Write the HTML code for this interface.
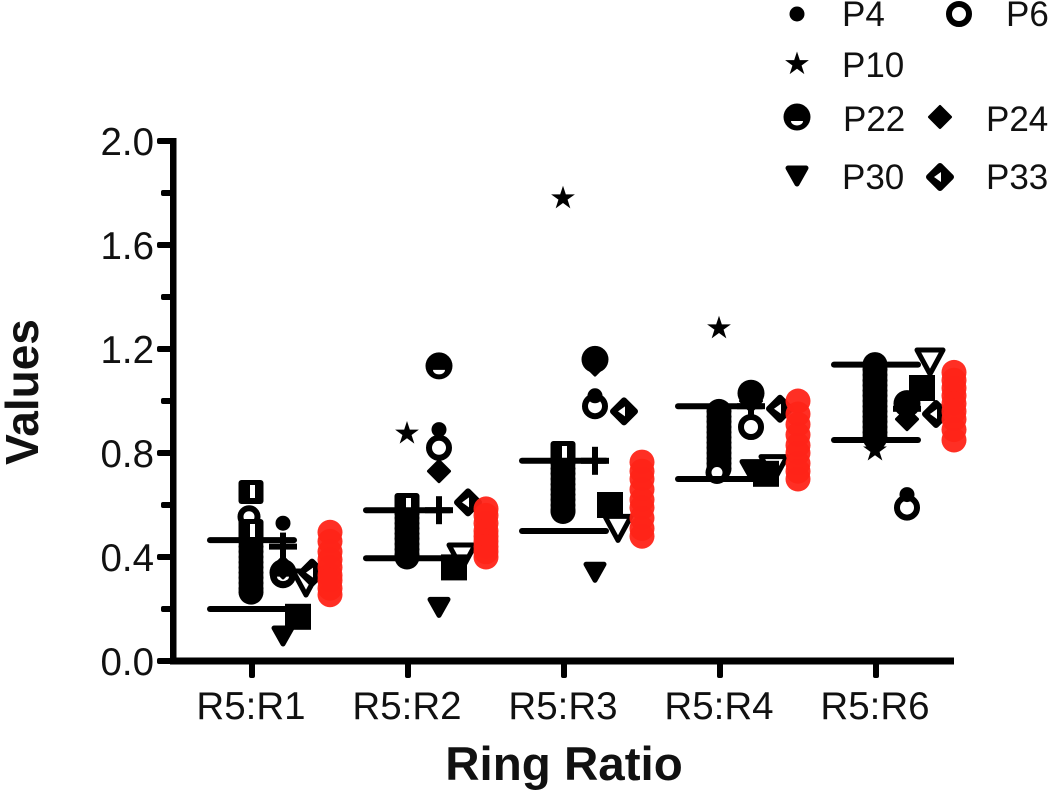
<!DOCTYPE html>
<html lang="en">
<head>
<meta charset="utf-8">
<title>Ring Ratio chart</title>
<style>
html,body{margin:0;padding:0;background:#fff;}
svg{display:block;font-family:"Liberation Sans",Arial,sans-serif;}
</style>
</head>
<body>
<svg id="chart" xmlns="http://www.w3.org/2000/svg" width="1050" height="792" viewBox="0 0 1050 792"></svg>
<script>
const categories = ['R5:R1', 'R5:R2', 'R5:R3', 'R5:R4', 'R5:R6'];
const yTicks = [0.0, 0.4, 0.8, 1.2, 1.6, 2.0];
const yMinorTicks = [0.2, 0.6, 1.0, 1.4, 1.8];

const columnValues = [
  [0.46, 0.44, 0.42, 0.40, 0.38, 0.36, 0.34, 0.32, 0.30, 0.28, 0.265],
  [0.59, 0.57, 0.55, 0.53, 0.51, 0.49, 0.47, 0.45, 0.43, 0.41, 0.40],
  [0.76, 0.74, 0.72, 0.70, 0.68, 0.66, 0.64, 0.62, 0.60, 0.58, 0.575],
  [0.96, 0.94, 0.92, 0.90, 0.88, 0.86, 0.84, 0.82, 0.80, 0.78, 0.76, 0.74],
  [1.14, 1.12, 1.10, 1.08, 1.06, 1.04, 1.02, 1.00, 0.98, 0.96, 0.94, 0.92, 0.90, 0.88, 0.86]
];
const columnRingValues = [[0.555], [], [], [0.725], []];
const openSquareValues = [[0.65, 0.50], [0.60], [0.80], [], []];
const upperLine = [0.465, 0.58, 0.77, 0.98, 1.14];
const lowerLine = [0.20, 0.395, 0.50, 0.70, 0.85];
const plusValues = [0.44, 0.58, 0.77, 0.98, 0.97];
const p4Values = [0.53, 0.89, 1.02, 1.04, 0.64];
const p6Values = [0.33, 0.82, 0.98, 0.90, 0.59];
const p10Values = [0.40, 0.875, 1.78, 1.28, 0.81];
const p22Values = [0.34, 1.135, 1.16, 1.03, 0.99];
const p24Values = [0.36, 0.73, 1.14, 1.00, 0.93];
const p30Values = [0.10, 0.21, 0.345, 0.74, 0.95];
const p33Values = [0.34, 0.61, 0.96, 0.97, 0.95];
const squareValues = [0.17, 0.36, 0.60, 0.72, 1.05];
const openTriangleValues = [0.30, 0.40, 0.51, 0.74, 1.15];
const redValues = [
  [0.495, 0.46, 0.42, 0.39, 0.36, 0.33, 0.31, 0.28, 0.255],
  [0.585, 0.56, 0.53, 0.50, 0.48, 0.46, 0.44, 0.42, 0.40],
  [0.765, 0.73, 0.70, 0.66, 0.62, 0.59, 0.55, 0.51, 0.48],
  [1.00, 0.95, 0.91, 0.87, 0.83, 0.80, 0.76, 0.73, 0.70],
  [1.11, 1.08, 1.05, 1.02, 0.99, 0.96, 0.93, 0.89, 0.85]
];

const NS = 'http://www.w3.org/2000/svg';
const svg = document.getElementById('chart');
const yScale = v => 661 - v * 260;
const xScale = i => 252 + i * 156;

function add(parent, tag, attrs) {
  const el = document.createElementNS(NS, tag);
  for (const k in attrs) el.setAttribute(k, attrs[k]);
  parent.appendChild(el);
  return el;
}
function group(name) {
  const g = add(svg, 'g', {});
  
  
  return g;
}
function circle(p, x, y, r, fill) { return add(p, 'circle', { cx: x, cy: y, r: r, fill: fill }); }
function poly(p, pts, fill, stroke, sw) {
  return add(p, 'polygon', {
    points: pts.map(q => q[0] + ',' + q[1]).join(' '),
    fill: fill, stroke: stroke || 'none', 'stroke-width': sw || 0, 'stroke-linejoin': 'round'
  });
}
function drawP4(p, x, y) { circle(p, x, y, 7.5, '#000'); }
function drawP6(p, x, y) { add(p, 'circle', { cx: x, cy: y, r: 10, fill: '#fff', stroke: '#000', 'stroke-width': 6 }); }
function drawStar(p, x, y) {
  const pts = [];
  for (let k = 0; k < 10; k++) {
    const r = k % 2 ? 4.8 : 12.5;
    const a = -Math.PI / 2 + k * Math.PI / 5;
    pts.push([x + r * Math.cos(a), y + r * Math.sin(a)]);
  }
  poly(p, pts, '#000');
}
function drawP22(p, x, y) {
  circle(p, x, y, 13.5, '#000');
  add(p, 'path', { d: `M${x - 6} ${y + 4}H${x + 6}A6 4.5 0 0 1 ${x - 6} ${y + 4}Z`, fill: '#fff' });
}
function drawP24(p, x, y) {
  poly(p, [[x, y - 10.5], [x + 10.5, y], [x, y + 10.5], [x - 10.5, y]], '#000', '#000', 3);
}
function drawP30(p, x, y) {
  poly(p, [[x - 9, y - 7], [x + 9, y - 7], [x, y + 9]], '#000', '#000', 5);
}
function drawP33(p, x, y) {
  poly(p, [[x, y - 11], [x + 11, y], [x, y + 11], [x - 11, y]], '#000', '#000', 6);
  poly(p, [[x - 6, y], [x + 1, y - 5], [x + 1, y + 5]], '#fff');
}
function drawSquare(p, x, y) { add(p, 'rect', { x: x - 13, y: y - 13, width: 26, height: 26, fill: '#000' }); }
function drawOpenTriangle(p, x, y) {
  poly(p, [[x - 13, y - 12], [x + 13, y - 12], [x, y + 12]], '#fff', '#000', 5);
}
function drawPlus(p, x, y) {
  add(p, 'rect', { x: x - 14, y: y - 3, width: 28, height: 6, fill: '#000' });
  add(p, 'rect', { x: x - 3, y: y - 14, width: 6, height: 28, fill: '#000' });
}
function drawOpenSquare(p, x, y) {
  add(p, 'rect', { x: x - 12.5, y: y - 12, width: 25, height: 24, rx: 3, fill: '#000' });
  add(p, 'rect', { x: x - 1, y: y - 7, width: 5, height: 13, fill: '#fff' });
}
function label(parent, x, y, text, size, anchor, weight) {
  const t = add(parent, 'text', { x: x, y: y, 'font-size': size, 'text-anchor': anchor || 'start', 'font-weight': weight || 'normal', fill: '#111' });
  t.textContent = text;
  return t;
}

/* axes */
const axes = group('axes');
const yAxis = add(axes, 'rect', { x: 170, y: 138, width: 6.5, height: 526, fill: '#000' });


const xAxis = add(axes, 'rect', { x: 170, y: 657.5, width: 784, height: 7, fill: '#000' });


yTicks.forEach(v => {
  const y = yScale(v);
  const tick = add(axes, 'rect', { x: 157, y: y - 3, width: 16, height: 6, rx: 2, fill: '#000' });
  
  
  const tl = label(axes, 154, y + 14, v.toFixed(1), 38.5, 'end');
  
  
});
yMinorTicks.forEach(v => {
  const tick = add(axes, 'rect', { x: 161, y: yScale(v) - 3, width: 12, height: 6, rx: 2, fill: '#000' });
  
  
});
categories.forEach((c, i) => {
  const tick = add(axes, 'rect', { x: xScale(i) - 3, y: 660, width: 6, height: 18, rx: 2, fill: '#000' });
  
  
  const tl = label(axes, xScale(i) - 1, 719, c, 38.5, 'middle');
  
  
});
const xTitle = label(svg, 564, 780, 'Ring Ratio', 47.5, 'middle', 'bold');


const yTitle = label(svg, 0, 0, 'Values', 46, 'middle', 'bold');
yTitle.setAttribute('transform', 'translate(38 392) rotate(-90)');



/* marks */
const COL = -1, INNER = 31, SQ = 46, TRI = 54, DIA = 60, RED = 78;
const gColumn = group('column-points');
columnValues.forEach((vals, i) => vals.forEach(v => circle(gColumn, xScale(i) + COL, yScale(v), 12.5, '#000')));
const gColumnRings = group('column-ring-points');
columnRingValues.forEach((vals, i) => vals.forEach(v => {
  add(gColumnRings, 'circle', { cx: xScale(i) + COL - 2, cy: yScale(v), r: 8.5, fill: '#fff', stroke: '#000', 'stroke-width': 6 });
}));
const gOpen = group('open-square-points');
openSquareValues.forEach((vals, i) => vals.forEach(v => drawOpenSquare(gOpen, xScale(i) + COL, yScale(v))));
const gLines = group('mean-sd-lines');
[upperLine, lowerLine].forEach(arr => arr.forEach((v, i) => {
  add(gLines, 'rect', { x: xScale(i) - 45, y: yScale(v) - 3, width: 90, height: 6, rx: 3, fill: '#000' });
}));
function series(name, values, offset, draw) {
  const g = group(name);
  values.forEach((v, i) => draw(g, xScale(i) + offset, yScale(v)));
}
series('series-p10', p10Values, COL, drawStar);
series('series-plus', plusValues, INNER, drawPlus);
series('series-p6', p6Values, INNER, drawP6);
series('series-p4', p4Values, INNER, drawP4);
series('series-p22', p22Values, INNER, drawP22);
series('series-p24', p24Values, INNER, drawP24);
series('series-p30', p30Values, INNER, drawP30);
series('series-open-triangle', openTriangleValues, TRI, drawOpenTriangle);
series('series-square', squareValues, SQ, drawSquare);
series('series-p33', p33Values, DIA, drawP33);
const gRed = group('red-points');
redValues.forEach((vals, i) => vals.forEach(v => {
  const c = circle(gRed, xScale(i) + RED, yScale(v), 12.5, '#ff2418');
  c.setAttribute('fill-opacity', '0.95');
}));

/* legend */
const legend = group('legend');
function legendEntry(draw, mx, my, text, tx, ty) {
  const g = add(legend, 'g', {});
  
  
  draw(g, mx, my);
  label(g, tx, ty, text, 35);
}
legendEntry(drawP4, 797, 14, 'P4', 842, 26);
legendEntry(drawP6, 959, 14, 'P6', 1006, 26);
legendEntry(drawStar, 797, 64, 'P10', 842, 77);
legendEntry(drawP22, 797, 117, 'P22', 843, 131);
legendEntry(drawP24, 940, 117, 'P24', 986, 131);
legendEntry(drawP30, 797, 175, 'P30', 842, 189);
legendEntry(drawP33, 940, 177, 'P33', 986, 189);
</script>
</body>
</html>
